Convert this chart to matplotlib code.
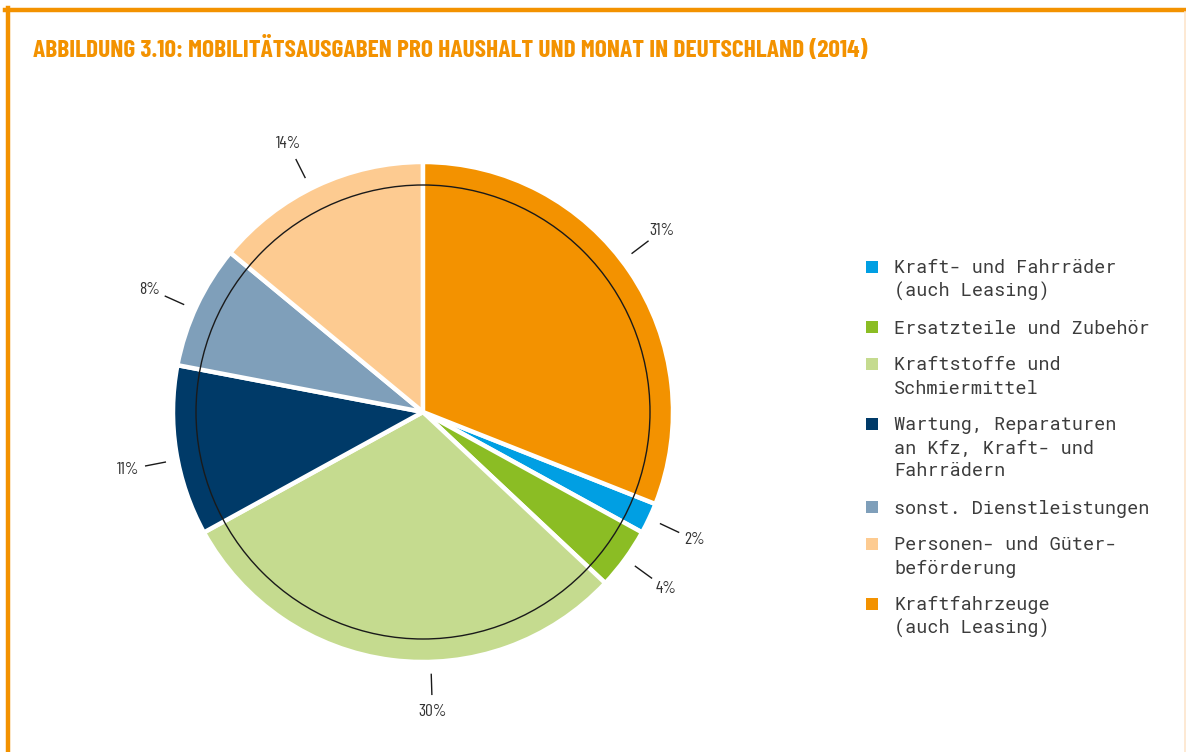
import numpy as np
import matplotlib
matplotlib.use('Agg')
import matplotlib.pyplot as plt
from matplotlib.lines import Line2D
from matplotlib.patches import Rectangle

# daten (reihenfolge wie in der legende)
labels = ['Kraft- und Fahrräder\n(auch Leasing)',
          'Ersatzteile und Zubehör',
          'Kraftstoffe und\nSchmiermittel',
          'Wartung, Reparaturen\nan Kfz, Kraft- und\nFahrrädern',
          'sonst. Dienstleistungen',
          'Personen- und Güter-\nbeförderung',
          'Kraftfahrzeuge\n(auch Leasing)']
values = [2, 4, 30, 11, 8, 14, 31]
colors = ['#009FE3', '#8BBD24', '#C5DB8F', '#003A68', '#7F9FBA', '#FDCB91', '#F39200']

title = 'ABBILDUNG 3.10: MOBILITÄTSAUSGABEN PRO HAUSHALT UND MONAT IN DEUTSCHLAND (2014)'
orange = '#F39200'
cond = ['Barlow Condensed', 'DejaVu Sans']
mono = ['Roboto Mono', 'DejaVu Sans Mono']
W, H = 1186, 752

fig = plt.figure(figsize=(W / 100, H / 100), dpi=100)

# rahmen oben und links
fig.add_artist(Line2D([5 / W, 1], [1 - 10 / H, 1 - 10 / H], color=orange, lw=3.2))
fig.add_artist(Line2D([8 / W, 8 / W], [0, 1 - 8 / H], color=orange, lw=3.2))
fig.add_artist(Line2D([1184.5 / W, 1184.5 / W], [0, 1 - 12 / H], color='#FDE5CC', lw=1.2))

fig.text(33 / W, 1 - 57 / H, title, color=orange, fontsize=18.3, fontweight='bold',
         family=cond, va='baseline', ha='left')

# pie, zentrum bei (423, 412) px, radius 250 px
cx, cy, half = 423, 412, 320
ax = fig.add_axes([(cx - half) / W, (H - cy - half) / H, 2 * half / W, 2 * half / H])
start = 90 - values[-1] * 3.6
wedges, _ = ax.pie(values, colors=colors, startangle=start, counterclock=False,
                   radius=1, wedgeprops=dict(edgecolor='white', linewidth=3.2))
lim = half / 250
ax.set_xlim(-lim, lim)
ax.set_ylim(-lim, lim)
ax.set_aspect('equal')
ax.axis('off')

ax.add_patch(plt.Circle((0, 0), 0.908, fill=False, edgecolor='#1a1a1a', lw=1.0, zorder=5))

# kleine winkelkorrektur der beschriftungen wie im original
shift = [0, 0, 9, 2, 1, 1.5, 3]
for w, v, d in zip(wedges, values, shift):
    ang = np.deg2rad((w.theta1 + w.theta2) / 2 + d)
    c, s = np.cos(ang), np.sin(ang)
    ax.plot([1.05 * c, 1.13 * c], [1.05 * s, 1.13 * s], color='#1a1a1a', lw=1.0)
    ax.text(1.2 * c, 1.2 * s, f'{v}%', ha='center', va='center', fontsize=12.5,
            family=cond, color='#333333')

# legende
y = 267
for lab, col in zip(labels, colors):
    fig.add_artist(Rectangle((866 / W, 1 - (y + 6) / H), 12 / W, 12 / H,
                             facecolor=col, edgecolor='none', transform=fig.transFigure))
    for line in lab.split('\n'):
        fig.text(894 / W, 1 - (y + 6.5) / H, line, family=mono, fontsize=13.3,
                 fontweight='light', color='#3c3c3c', va='baseline', ha='left')
        y += 23
    y += 14

fig.savefig('out.png', dpi=100)
